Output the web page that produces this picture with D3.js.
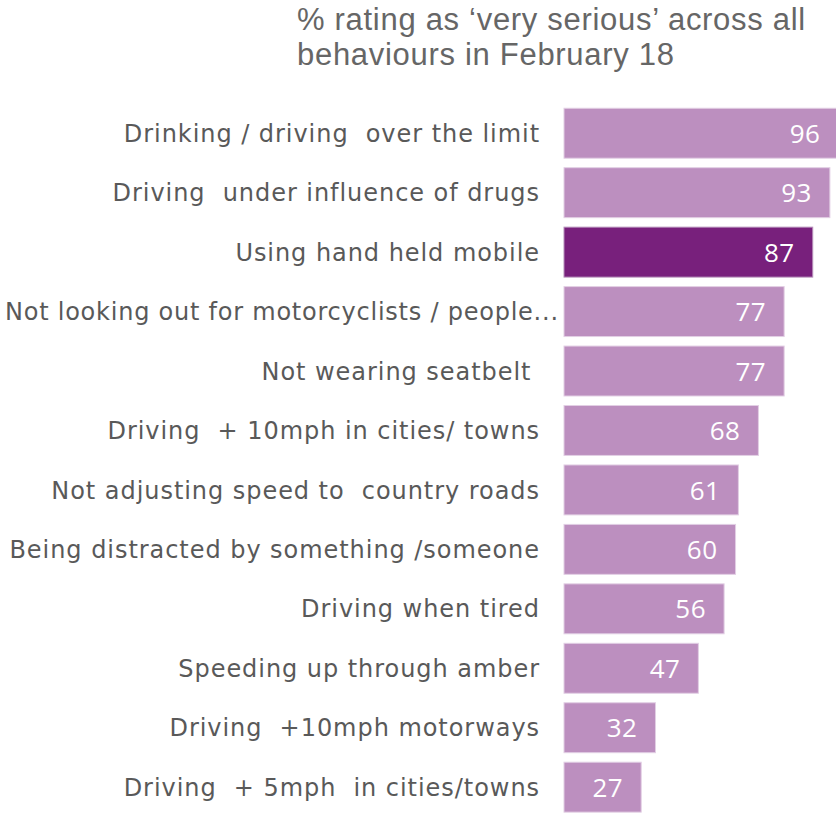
<!DOCTYPE html>
<html>
<head>
<meta charset="utf-8">
<script src="https://cdn.jsdelivr.net/npm/d3@7"></script>
<style>
  html, body { margin: 0; padding: 0; background: #fff; }
  svg { display: block; }
</style>
</head>
<body>
<svg id="chart" width="836" height="814"></svg>
<script>
// Behaviours, in display order (top to bottom)
const behaviours = [
  "Drinking / driving  over the limit",
  "Driving  under influence of drugs",
  "Using hand held mobile",
  "Not looking out for motorcyclists / people...",
  "Not wearing seatbelt ",
  "Driving  + 10mph in cities/ towns",
  "Not adjusting speed to  country roads",
  "Being distracted by something /someone",
  "Driving when tired",
  "Speeding up through amber",
  "Driving  +10mph motorways",
  "Driving  + 5mph  in cities/towns"
];
// % rating each behaviour as 'very serious'
const verySerious = [96, 93, 87, 77, 77, 68, 61, 60, 56, 47, 32, 27];
// Behaviour singled out in the darker colour
const highlighted = ["Using hand held mobile"];
const titleLines = ["% rating as \u2018very serious\u2019 across all", "behaviours in February 18"];

const data = behaviours.map((b, i) => ({ label: b, value: verySerious[i] }));

const svg = d3.select("#chart");

const x = d3.scaleLinear().domain([0, 100]).range([564, 564 + 285.9]);
const y = d3.scaleBand()
  .domain(behaviours)
  .range([103.5, 816.9])
  .paddingInner(0.16)
  .paddingOuter(0.08);

// Title
svg.append("text")
  .attr("x", 297)
  .attr("y", 30)
  .attr("font-family", "'Liberation Sans', Arial, sans-serif")
  .attr("font-size", 31)
  .attr("letter-spacing", 0.7)
  .attr("fill", "#666666")
  .selectAll("tspan")
  .data(titleLines)
  .join("tspan")
  .attr("x", 297)
  .attr("dy", (d, i) => i === 0 ? 0 : 35)
  .text(d => d);

// Bars
svg.append("g")
  .selectAll("rect")
  .data(data)
  .join("rect")
  .attr("x", x(0))
  .attr("y", d => y(d.label))
  .attr("width", d => x(d.value) - x(0))
  .attr("height", y.bandwidth())
  .attr("fill", d => highlighted.includes(d.label) ? "#78207c" : "#bc8fbf")
  .attr("stroke", d => highlighted.includes(d.label) ? "#b68fb9" : "#e2cfe4")
  .attr("stroke-width", 1);

// Value labels inside the bar ends
svg.append("g")
  .selectAll("text")
  .data(data)
  .join("text")
  .attr("x", d => x(d.value) - 18)
  .attr("y", d => y(d.label) + y.bandwidth() / 2)
  .attr("dy", "0.37em")
  .attr("text-anchor", "end")
  .attr("font-family", "'Open Sans', sans-serif")
  .attr("font-size", 26)
  .attr("letter-spacing", 0.5)
  .attr("fill", "#ffffff")
  .text(d => d.value);

// Category labels, right-aligned against the bars
const labelRight = 540, labelLeft = 5;
const labels = svg.append("g")
  .selectAll("text")
  .data(data)
  .join("text")
  .attr("x", labelRight)
  .attr("y", d => y(d.label) + y.bandwidth() / 2)
  .attr("dy", "0.36em")
  .attr("text-anchor", "end")
  .attr("font-family", "'DejaVu Sans', Verdana, sans-serif")
  .attr("font-size", 24)
  .attr("letter-spacing", 0.95)
  .attr("fill", "#595959")
  .style("white-space", "pre")
  .text(d => d.label);

// Labels too long for the margin run from the left edge up to the bars
labels.each(function () {
  const len = this.getComputedTextLength();
  if (len > labelRight - labelLeft) {
    d3.select(this)
      .attr("x", labelLeft)
      .attr("text-anchor", "start")
      .attr("textLength", x(0) - 5 - labelLeft)
      .attr("lengthAdjust", "spacing");
  }
});
</script>
</body>
</html>
